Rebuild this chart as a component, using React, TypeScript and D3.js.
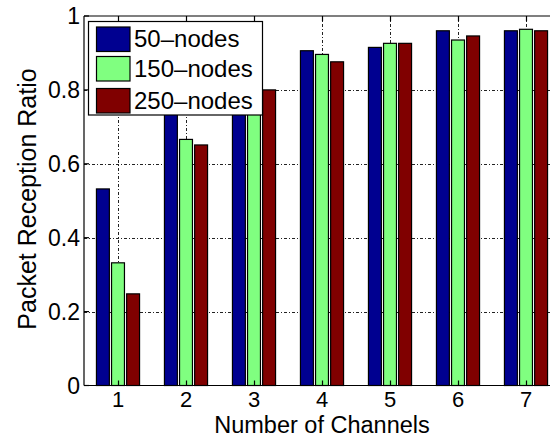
import React from "react";
import * as d3 from "d3";

const channels = [1, 2, 3, 4, 5, 6, 7];
const seriesNames = ["50\u2013nodes", "150\u2013nodes", "250\u2013nodes"];
const nodes50 = [0.532, 0.78, 0.84, 0.906, 0.915, 0.96, 0.96];
const nodes150 = [0.332, 0.666, 0.82, 0.896, 0.926, 0.935, 0.964];
const nodes250 = [0.248, 0.651, 0.8, 0.876, 0.926, 0.946, 0.96];
const seriesColors = ["#000090", "#80FF80", "#800000"];
const yTicks = [0, 0.2, 0.4, 0.6, 0.8, 1];

const W = 550;
const H = 439;
const FONT = "'Liberation Sans', Arial, Helvetica, sans-serif";

export default function App() {
  const series = [nodes50, nodes150, nodes250];
  const left = 84;
  const top = 16;
  const bottom = 385.5;
  const x = d3.scaleLinear().domain([0.5, 7.5]).range([left, left + 476]);
  const y = d3.scaleLinear().domain([0, 1]).range([bottom, top]);
  const right = x(7.5);

  const offset = 0.222;
  const barW = x(0.19) - x(0);
  const grid = "3,2,1,2";

  return (
    <div style={{ position: "fixed", left: 0, top: 0, width: W, height: H, background: "#fff" }}>
      <svg width={W} height={H} style={{ display: "block" }}>
        <rect x={0} y={0} width={W} height={H} fill="#fff" />
        {/* grid lines */}
        <g stroke="#222" strokeWidth={1} strokeDasharray={grid}>
          {yTicks.slice(1, -1).map((t) => (
            <line key={`gy${t}`} x1={left} x2={right} y1={Math.round(y(t)) + 0.5} y2={Math.round(y(t)) + 0.5} />
          ))}
          {channels.map((c) => (
            <line key={`gx${c}`} x1={Math.round(x(c)) + 0.5} x2={Math.round(x(c)) + 0.5} y1={top} y2={bottom} />
          ))}
        </g>
        {/* bars */}
        {series.map((vals, si) => (
          <g key={si} fill={seriesColors[si]} stroke="#000" strokeWidth={1.2}>
            {vals.map((v, i) => {
              const cx = x(channels[i] + (si - 1) * offset);
              return (
                <rect
                  key={i}
                  x={cx - barW / 2}
                  y={y(v)}
                  width={barW}
                  height={y(0) - y(v)}
                />
              );
            })}
          </g>
        ))}
        {/* axes box */}
        <g stroke="#000" strokeWidth={1.2} fill="none">
          <line x1={left} x2={right} y1={top} y2={top} />
          <line x1={left} x2={right} y1={bottom} y2={bottom} />
          <line x1={left} x2={left} y1={top} y2={bottom} />
          {channels.map((c) => (
            <g key={`tx${c}`}>
              <line x1={Math.round(x(c)) + 0.5} x2={Math.round(x(c)) + 0.5} y1={top} y2={top + 5} />
              <line x1={Math.round(x(c)) + 0.5} x2={Math.round(x(c)) + 0.5} y1={bottom} y2={bottom - 5} />
            </g>
          ))}
          {yTicks.map((t) => (
            <line key={`ty${t}`} x1={left} x2={left + 5} y1={y(t)} y2={y(t)} />
          ))}
        </g>
        {/* tick labels */}
        <g fontFamily={FONT} fontSize={23} fill="#000">
          {yTicks.map((t) => (
            <text key={`ly${t}`} x={left - 4} y={y(t) + 8} textAnchor="end">
              {t === 0 || t === 1 ? String(t) : t.toFixed(1)}
            </text>
          ))}
        </g>
        <g fontFamily={FONT} fontSize={22} fill="#000">
          {channels.map((c) => (
            <text key={`lx${c}`} x={x(c)} y={407} textAnchor="middle">
              {c}
            </text>
          ))}
        </g>
        {/* axis titles */}
        <text x={(left + right) / 2} y={433} textAnchor="middle" fontFamily={FONT} fontSize={23.5} fill="#000">
          Number of Channels
        </text>
        <text
          transform={`translate(36, 199) rotate(-90)`}
          textAnchor="middle"
          fontFamily={FONT}
          fontSize={25}
          fill="#000"
        >
          Packet Reception Ratio
        </text>
        {/* legend */}
        <g>
          <rect x={88.5} y={21.5} width={174} height={93.5} fill="#fff" stroke="#000" strokeWidth={1.2} />
          {seriesNames.map((name, i) => {
            const ys = [27, 56.5, 88.5][i];
            return (
              <g key={name}>
                <rect x={96.5} y={ys} width={33.5} height={24.5} fill={seriesColors[i]} stroke="#000" strokeWidth={1.2} />
                <text x={134} y={ys + 20} fontFamily={FONT} fontSize={24} fill="#000">
                  {name}
                </text>
              </g>
            );
          })}
        </g>
      </svg>
    </div>
  );
}
